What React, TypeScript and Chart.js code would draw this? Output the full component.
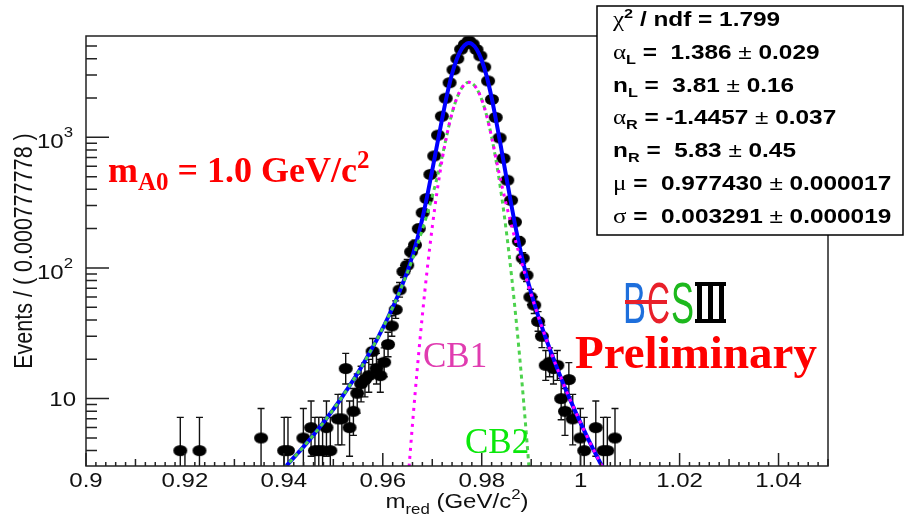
import { useEffect, useRef } from 'react';
import { Chart, registerables } from 'chart.js';

Chart.register(...registerables);

// Histogram: bin centres of m_red (GeV/c^2), bin width 0.000777778, and event counts
const binCenters = [
  0.91906, 0.92294, 0.93539, 0.94006, 0.94083, 0.94394, 0.9455, 0.94628, 0.94706, 0.94783,
  0.94861, 0.94939, 0.95094, 0.95172, 0.9525, 0.95328, 0.95406, 0.95483, 0.95561, 0.95639,
  0.95717, 0.95794, 0.95872, 0.9595, 0.96028, 0.96106, 0.96183, 0.96261, 0.96339, 0.96417,
  0.96494, 0.96572, 0.9665, 0.96728, 0.96806, 0.96883, 0.96961, 0.97039, 0.97117, 0.97194,
  0.97272, 0.9735, 0.97428, 0.97506, 0.97583, 0.97661, 0.97739, 0.97817, 0.97894, 0.97972,
  0.9805, 0.98128, 0.98206, 0.98283, 0.98361, 0.98439, 0.98517, 0.98594, 0.98672, 0.9875,
  0.98828, 0.98906, 0.98983, 0.99061, 0.99139, 0.99217, 0.99294, 0.99372, 0.9945, 0.99528,
  0.99606, 0.99683, 0.99761, 0.99839, 0.99994, 1.00072, 1.00306, 1.00461, 1.00539, 1.00694,
];
const binCounts = [
  4, 4, 5, 4, 4, 5, 6, 4, 4, 4,
  6, 4, 7, 7, 17, 6, 8, 11, 13, 14,
  15, 23, 17, 15, 19, 26, 36, 48, 68, 94,
  105, 133, 150, 200, 265, 340, 520, 720, 1040, 1450,
  1990, 2620, 3290, 4000, 4720, 5150, 5480, 5180, 4700, 4200,
  3450, 2700, 1950, 1420, 990, 690, 470, 330, 225, 160,
  119, 88, 60, 52, 39, 30, 18, 19, 17, 18,
  10, 8, 14, 7, 5, 4, 6, 4, 4, 5,
];

// Fit curves sampled along m_red
const fitMass = [
  0.94, 0.941, 0.942, 0.943, 0.944, 0.945, 0.946, 0.947, 0.948, 0.949,
  0.95, 0.951, 0.952, 0.953, 0.954, 0.955, 0.956, 0.957, 0.958, 0.959,
  0.96, 0.961, 0.962, 0.963, 0.964, 0.965, 0.966, 0.967, 0.968, 0.969,
  0.97, 0.971, 0.972, 0.973, 0.974, 0.975, 0.976, 0.977, 0.9774,
  0.978, 0.979, 0.98, 0.981, 0.982, 0.983, 0.984, 0.985, 0.986, 0.987,
  0.988, 0.989, 0.99, 0.991, 0.992, 0.993, 0.994, 0.995, 0.996, 0.997,
  0.998, 0.999, 1.0, 1.001, 1.002, 1.003, 1.004, 1.005,
];
const fitTotal = [
  2.93, 3.21, 3.53, 3.89, 4.29, 4.75, 5.27, 5.87, 6.56, 7.36,
  8.27, 9.34, 10.6, 12.1, 13.8, 15.8, 18.3, 21.3, 24.9, 29.2,
  34.7, 41.4, 49.9, 60.7, 75.4, 95.1, 124, 168, 239, 359,
  560, 885, 1389, 2130, 3062, 4014, 4794, 5224, 5270,
  5192, 4704, 3884, 2926, 2008, 1284, 798, 490, 302, 191,
  127, 88.3, 64.2, 48.1, 36.9, 28.7, 22.7, 18.0, 14.5, 11.7,
  9.56, 7.85, 6.49, 5.39, 4.51, 3.79, 3.2, 2.72,
];
const fitCB1 = [
  null, null, null, null, null, null, null, null, null, null,
  null, null, null, null, null, null, null, null, null, null,
  null, null, null, null, 0.64, 2.11, 6.36, 17.4, 43.5, 99.2,
  206, 391, 677, 1065, 1531, 2007, 2397, 2612, 2635,
  2596, 2352, 1942, 1463, 1004, 655, 439, 302, 213, 153,
  112, 82.8, 62.4, 47.6, 36.8, 28.7, 22.7, 18.0, 14.5, 11.7,
  9.56, 7.85, 6.49, 5.39, 4.51, 3.79, 3.2, 2.72,
];
const fitCB2 = [
  2.93, 3.21, 3.53, 3.89, 4.29, 4.75, 5.27, 5.87, 6.56, 7.36,
  8.27, 9.34, 10.6, 12.1, 13.8, 15.8, 18.3, 21.3, 24.9, 29.2,
  34.7, 41.4, 49.9, 60.7, 74.7, 93.0, 117, 150, 196, 260,
  353, 494, 712, 1065, 1531, 2007, 2397, 2612, 2635,
  2596, 2352, 1942, 1463, 1004, 629, 359, 187, 88.8, 38.4,
  15.2, 5.45, 1.79, 0.55, null, null, null, null, null, null,
  null, null, null, null, null, null, null, null,
];

// Axis ticks and labels
const xTickValues = [0.9, 0.92, 0.94, 0.96, 0.98, 1.0, 1.02, 1.04];
const xTickLabels = ['0.9', '0.92', '0.94', '0.96', '0.98', '1', '1.02', '1.04'];
const yDecades = [10, 100, 1000];
const yDecadeExponents = ['', '2', '3'];

// Fit result box: each line is a list of [text, style] runs
const statLines = [
  [['χ', 'g'], ['2', 'p'], [' / ndf = 1.799', 'b']],
  [['α', 'g'], ['L', 's'], [' =  1.386 ', 'b'], ['±', 'r'], [' 0.029', 'b']],
  [['n', 'b'], ['L', 's'], [' =  3.81 ', 'b'], ['±', 'r'], [' 0.16', 'b']],
  [['α', 'g'], ['R', 's'], [' = -1.4457 ', 'b'], ['±', 'r'], [' 0.037', 'b']],
  [['n', 'b'], ['R', 's'], [' =  5.83 ', 'b'], ['±', 'r'], [' 0.45', 'b']],
  [['μ', 'g'], [' =  0.977430 ', 'b'], ['±', 'r'], [' 0.000017', 'b']],
  [['σ', 'g'], [' =  0.003291 ', 'b'], ['±', 'r'], [' 0.000019', 'b']],
];

const X_MIN = 0.9;
const X_MAX = 1.05;
const Y_MIN = 3.05;
const Y_MAX = 5960;

const SANS = '"Liberation Sans", Arial, Helvetica, sans-serif';
const SERIF = '"Liberation Serif", "Times New Roman", serif';
const SX = 1.2;

type Run = { text: string; font: string; dy: number; color?: string };

function drawRuns(ctx: CanvasRenderingContext2D, runs: Run[], x: number, y: number, sx: number, align: 'left' | 'center' | 'right', color: string) {
  ctx.save();
  ctx.textAlign = 'left';
  ctx.textBaseline = 'alphabetic';
  let total = 0;
  const widths = runs.map((r) => {
    ctx.font = r.font;
    const w = ctx.measureText(r.text).width;
    total += w;
    return w;
  });
  ctx.translate(x, y);
  ctx.scale(sx, 1);
  let cx = align === 'left' ? 0 : align === 'center' ? -total / 2 : -total;
  runs.forEach((r, i) => {
    ctx.font = r.font;
    ctx.fillStyle = r.color || color;
    ctx.fillText(r.text, cx, r.dy);
    cx += widths[i];
  });
  ctx.restore();
}

function gehrelsUpper(n: number) {
  return n + Math.sqrt(n + 0.75) + 1;
}
function gehrelsLower(n: number) {
  return n * Math.pow(1 - 1 / (9 * n) - 1 / (3 * Math.sqrt(n)), 3);
}

function makeMarker() {
  const c = document.createElement('canvas');
  c.width = 16;
  c.height = 13;
  const g = c.getContext('2d')!;
  g.fillStyle = '#000';
  g.beginPath();
  g.ellipse(8, 6.5, 7, 5.6, 0, 0, Math.PI * 2);
  g.fill();
  return c;
}

function drawGlyph(ctx: CanvasRenderingContext2D, ch: string, left: number, baseline: number, width: number, font: string, color: string) {
  ctx.save();
  ctx.font = font;
  const w = ctx.measureText(ch).width;
  ctx.translate(left, baseline);
  ctx.scale(width / w, 1);
  ctx.fillStyle = color;
  ctx.textAlign = 'left';
  ctx.textBaseline = 'alphabetic';
  ctx.fillText(ch, 0, 0);
  ctx.restore();
}

const errorBarPlugin = {
  id: 'errorBars',
  beforeDatasetsDraw(chart: any) {
    const { ctx, chartArea: a } = chart;
    const xs = chart.scales.x;
    const ys = chart.scales.y;
    ctx.save();
    ctx.beginPath();
    ctx.rect(a.left, a.top, a.right - a.left, a.bottom - a.top);
    ctx.clip();
    ctx.strokeStyle = '#111';
    ctx.lineWidth = 1.4;
    binCenters.forEach((m, i) => {
      const n = binCounts[i];
      const px = xs.getPixelForValue(m);
      const top = ys.getPixelForValue(gehrelsUpper(n));
      const bot = ys.getPixelForValue(Math.max(gehrelsLower(n), 0.5));
      ctx.beginPath();
      ctx.moveTo(px, top);
      ctx.lineTo(px, bot);
      ctx.moveTo(px - 3.5, top);
      ctx.lineTo(px + 3.5, top);
      ctx.moveTo(px - 3.5, bot);
      ctx.lineTo(px + 3.5, bot);
      ctx.stroke();
    });
    ctx.restore();
  },
};

const framePlugin = {
  id: 'frameAndText',
  afterDatasetsDraw(chart: any) {
    const { ctx, chartArea: a } = chart;
    const xs = chart.scales.x;
    const ys = chart.scales.y;
    ctx.save();

    // frame
    ctx.strokeStyle = '#222';
    ctx.lineWidth = 1.5;
    ctx.strokeRect(a.left, a.top, a.right - a.left, a.bottom - a.top);

    // x ticks: every 0.002, longer at 0.01 and 0.02
    ctx.beginPath();
    for (let k = 0; k <= 75; k++) {
      const v = X_MIN + k * 0.002;
      const px = xs.getPixelForValue(v);
      const len = k % 10 === 0 ? 13 : k % 5 === 0 ? 7 : 4;
      ctx.moveTo(px, a.bottom);
      ctx.lineTo(px, a.bottom - len);
    }
    // y ticks on a log axis
    [1, 10, 100, 1000].forEach((d) => {
      for (let m = 1; m <= 9; m++) {
        const v = m * d;
        if (v < Y_MIN || v > Y_MAX) continue;
        const py = ys.getPixelForValue(v);
        const len = m === 1 ? 23 : 11;
        ctx.moveTo(a.left, py);
        ctx.lineTo(a.left + len, py);
      }
    });
    ctx.stroke();

    // x tick labels
    xTickValues.forEach((v, i) => {
      drawRuns(ctx, [{ text: xTickLabels[i], font: `20px ${SANS}`, dy: 0 }], xs.getPixelForValue(v), a.bottom + 21, SX, 'center', '#111');
    });

    // y tick labels
    yDecades.forEach((v, i) => {
      const py = ys.getPixelForValue(v);
      const e = yDecadeExponents[i];
      if (!e) {
        drawRuns(ctx, [{ text: '10', font: `20px ${SANS}`, dy: 0 }], a.left - 10, py + 7, SX, 'right', '#111');
      } else {
        drawRuns(
          ctx,
          [
            { text: '10', font: `20px ${SANS}`, dy: 11 },
            { text: e, font: `14px ${SANS}`, dy: 0 },
          ],
          a.left - 13,
          py,
          SX,
          'right',
          '#111'
        );
      }
    });

    // axis titles
    drawRuns(
      ctx,
      [
        { text: 'm', font: `20px ${SANS}`, dy: 0 },
        { text: 'red', font: `14px ${SANS}`, dy: 6 },
        { text: ' (GeV/c', font: `20px ${SANS}`, dy: 0 },
        { text: '2', font: `14px ${SANS}`, dy: -9 },
        { text: ')', font: `20px ${SANS}`, dy: 0 },
      ],
      (a.left + a.right) / 2,
      a.bottom + 42,
      SX,
      'center',
      '#111'
    );
    ctx.save();
    ctx.translate(32, (a.top + a.bottom) / 2);
    ctx.rotate(-Math.PI / 2);
    ctx.scale(1, SX);
    ctx.font = `21.5px ${SANS}`;
    ctx.fillStyle = '#111';
    ctx.textAlign = 'center';
    ctx.textBaseline = 'alphabetic';
    ctx.fillText('Events / ( 0.000777778 )', 0, 0);
    ctx.restore();

    // annotations
    drawRuns(
      ctx,
      [
        { text: 'm', font: `bold 36px ${SERIF}`, dy: 0 },
        { text: 'A0', font: `bold 25px ${SERIF}`, dy: 8 },
        { text: ' = 1.0 GeV/c', font: `bold 36px ${SERIF}`, dy: 0 },
        { text: '2', font: `bold 25px ${SERIF}`, dy: -14 },
      ],
      108,
      182,
      1,
      'left',
      '#FF0000'
    );
    drawRuns(ctx, [{ text: 'CB1', font: `35px ${SERIF}`, dy: 0 }], 423, 367, 1, 'left', '#E03CB0');
    drawRuns(ctx, [{ text: 'CB2', font: `35px ${SERIF}`, dy: 0 }], 465, 453, 1, 'left', '#0BE80B');
    drawRuns(ctx, [{ text: 'Preliminary', font: `bold 47px ${SERIF}`, dy: 0 }], 575, 368, 1, 'left', '#FF0000');

    // BESIII logo
    const logoFont = `57px ${SANS}`;
    drawGlyph(ctx, 'B', 623, 323, 23, logoFont, '#1E6FDC');
    drawGlyph(ctx, 'C', 647, 323, 23, logoFont, '#E8202A');
    ctx.fillStyle = '#E8202A';
    ctx.fillRect(625, 300, 42, 4);
    drawGlyph(ctx, 'S', 671, 323, 23, logoFont, '#1DB81D');
    ctx.fillStyle = '#000';
    ctx.fillRect(695, 282, 31, 4);
    ctx.fillRect(695, 319, 31, 4);
    ctx.fillRect(697, 282, 5, 41);
    ctx.fillRect(708, 282, 5, 41);
    ctx.fillRect(719, 282, 5, 41);

    // fit result box
    ctx.fillStyle = '#fff';
    ctx.fillRect(597, 6, 306, 229);
    ctx.strokeStyle = '#000';
    ctx.lineWidth = 1.5;
    ctx.strokeRect(597, 6, 306, 229);
    const fontFor = (s: string) => {
      if (s === 'g') return { font: `20px ${SERIF}`, dy: 0 };
      if (s === 's') return { font: `bold 13px ${SANS}`, dy: 5 };
      if (s === 'p') return { font: `bold 13px ${SANS}`, dy: -8 };
      if (s === 'r') return { font: `19.5px ${SANS}`, dy: 0 };
      return { font: `bold 19.5px ${SANS}`, dy: 0 };
    };
    statLines.forEach((line, i) => {
      const runs = line.map(([t, s]) => ({ text: t, ...fontFor(s) }));
      drawRuns(ctx, runs, 613, 26 + i * 32.8, 1.25, 'left', '#000');
    });

    ctx.restore();
  },
};

function pairs(xs: number[], ys: (number | null)[]) {
  const out: { x: number; y: number }[] = [];
  xs.forEach((x, i) => {
    const y = ys[i];
    if (y !== null && y !== undefined) out.push({ x, y });
  });
  return out;
}

export default function App() {
  const ref = useRef<HTMLCanvasElement | null>(null);

  useEffect(() => {
    document.body.style.margin = '0';
    const canvas = ref.current;
    if (!canvas) return;
    const chart = new Chart(canvas, {
      type: 'scatter',
      data: {
        datasets: [
          {
            label: 'CB1',
            data: pairs(fitMass, fitCB1),
            showLine: true,
            borderColor: '#FF00FF',
            borderWidth: 3,
            borderDash: [3, 5],
            pointRadius: 0,
            cubicInterpolationMode: 'monotone',
            clip: 0,
            order: 0,
          },
          {
            label: 'CB2',
            data: pairs(fitMass, fitCB2),
            showLine: true,
            borderColor: '#4CD24C',
            borderWidth: 3,
            borderDash: [4, 4],
            pointRadius: 0,
            cubicInterpolationMode: 'monotone',
            clip: 0,
            order: 1,
          },
          {
            label: 'Total fit',
            data: pairs(fitMass, fitTotal),
            showLine: true,
            borderColor: '#0000FF',
            borderWidth: 4,
            pointRadius: 0,
            cubicInterpolationMode: 'monotone',
            clip: 0,
            order: 2,
          },
          {
            label: 'Data',
            data: pairs(binCenters, binCounts),
            showLine: false,
            pointStyle: makeMarker() as any,
            pointRadius: 6,
            order: 3,
          },
        ],
      },
      options: {
        animation: false,
        responsive: false,
        maintainAspectRatio: false,
        devicePixelRatio: 1,
        events: [],
        layout: { padding: { left: 86, top: 36, right: 76, bottom: 48 } },
        plugins: { legend: { display: false }, tooltip: { enabled: false } },
        scales: {
          x: { type: 'linear', min: X_MIN, max: X_MAX, display: false },
          y: { type: 'logarithmic', min: Y_MIN, max: Y_MAX, display: false },
        },
      },
      plugins: [errorBarPlugin, framePlugin],
    } as any);
    return () => chart.destroy();
  }, []);

  return <canvas ref={ref} width={904} height={514} style={{ display: 'block' }} />;
}
